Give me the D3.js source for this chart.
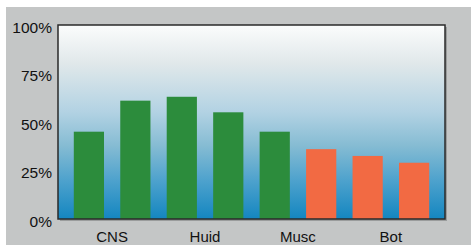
<!DOCTYPE html>
<html>
<head>
<meta charset="utf-8">
<script src="https://cdn.jsdelivr.net/npm/d3@7"></script>
<style>
  html, body { margin: 0; padding: 0; background: #ffffff; }
  svg { display: block; }
</style>
</head>
<body>
<div id="chart"></div>
<script>
const width = 471;
const height = 245;
const margin = { top: 25, right: 26, bottom: 26, left: 58 };

// data
const groups = ["CNS", "Huid", "Musc", "Bot"];
const barIds = ["b1", "b2", "b3", "b4", "b5", "b6", "b7", "b8"];
const barValues = [45, 61, 63, 55, 45, 36, 32.5, 29];
const barKinds = ["g", "g", "g", "g", "g", "o", "o", "o"];
const yTicks = [0, 25, 50, 75, 100];

const kindColor = { g: "#2c8c3c", o: "#f26a43" };

const svg = d3
  .select("#chart")
  .append("svg")
  .attr("width", width)
  .attr("height", height);

// grey panel
svg
  .append("rect")
  .attr("x", 6)
  .attr("y", 7)
  .attr("width", width - 6)
  .attr("height", height - 7)
  .attr("fill", "#c4c6c6");

const defs = svg.append("defs");
const grad = defs
  .append("linearGradient")
  .attr("id", "bg")
  .attr("x1", 0)
  .attr("y1", 0)
  .attr("x2", 0)
  .attr("y2", 1);
[
  [0, "#fbfcfc"],
  [0.2, "#e0e8ea"],
  [0.45, "#b2d2e3"],
  [0.62, "#86bcd3"],
  [0.8, "#4ea2cd"],
  [1, "#1486c0"],
].forEach(([o, c]) => grad.append("stop").attr("offset", o).attr("stop-color", c));

const innerW = width - margin.left - margin.right;
const innerH = height - margin.top - margin.bottom;

const g = svg.append("g").attr("transform", `translate(${margin.left},${margin.top})`);

// shadow + plot background
g.append("rect")
  .attr("x", 2)
  .attr("y", 2)
  .attr("width", innerW)
  .attr("height", innerH)
  .attr("fill", "#9a9c9c");
g.append("rect")
  .attr("width", innerW)
  .attr("height", innerH)
  .attr("fill", "url(#bg)");

const x = d3
  .scaleBand()
  .domain(barIds)
  .range([0, innerW])
  .paddingInner(0.35)
  .paddingOuter(0.34);

const y = d3.scaleLinear().domain([0, 100]).range([innerH, 0]);

g.selectAll(".bar")
  .data(barIds)
  .enter()
  .append("rect")
  .attr("class", "bar")
  .attr("x", (d) => x(d))
  .attr("width", x.bandwidth())
  .attr("y", (d, i) => y(barValues[i]))
  .attr("height", (d, i) => innerH - y(barValues[i]))
  .attr("fill", (d, i) => kindColor[barKinds[i]]);

// frame
g.append("rect")
  .attr("width", innerW)
  .attr("height", innerH)
  .attr("fill", "none")
  .attr("stroke", "#2a2a2a")
  .attr("stroke-width", 1.5);

// y axis
const yAxis = g
  .append("g")
  .call(d3.axisLeft(y).tickValues(yTicks).tickSize(0).tickPadding(6).tickFormat((d) => d + "%"));
yAxis.select(".domain").remove();
yAxis
  .selectAll("text")
  .attr("dy", "0.48em")
  .style("font-family", "Liberation Sans, Arial, sans-serif")
  .style("font-size", "15.5px")
  .attr("fill", "#111");

// x labels, one per pair of bars
g.selectAll(".xlab")
  .data(groups)
  .enter()
  .append("text")
  .attr("class", "xlab")
  .attr("x", (d, i) => (x(barIds[i * 2]) + x(barIds[i * 2 + 1]) + x.bandwidth()) / 2)
  .attr("y", innerH + 23)
  .attr("text-anchor", "middle")
  .style("font-family", "Liberation Sans, Arial, sans-serif")
  .style("font-size", "15px")
  .attr("fill", "#111")
  .text((d) => d);
</script>
</body>
</html>
